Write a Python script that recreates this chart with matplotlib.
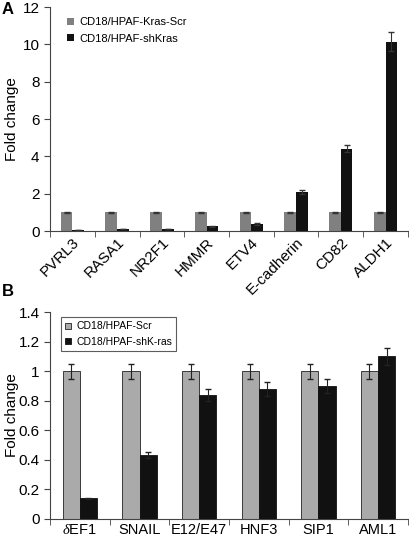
import matplotlib.pyplot as plt
import numpy as np

# panel A data
genes_a = ['PVRL3', 'RASA1', 'NR2F1', 'HMMR', 'ETV4', 'E-cadherin', 'CD82', 'ALDH1']
scr_a = [1.0, 1.0, 1.0, 1.0, 1.0, 1.0, 1.0, 1.0]
scr_a_err = [0.05, 0.05, 0.05, 0.05, 0.05, 0.05, 0.05, 0.05]
sh_a = [0.07, 0.12, 0.12, 0.25, 0.38, 2.1, 4.42, 10.15]
sh_a_err = [0.01, 0.02, 0.02, 0.03, 0.03, 0.12, 0.2, 0.5]

# panel B data
genes_b = [r'$\delta$EF1', 'SNAIL', 'E12/E47', 'HNF3', 'SIP1', 'AML1']
scr_b = [1.0, 1.0, 1.0, 1.0, 1.0, 1.0]
scr_b_err = [0.05, 0.05, 0.05, 0.05, 0.05, 0.05]
sh_b = [0.14, 0.43, 0.84, 0.88, 0.90, 1.10]
sh_b_err = [0.005, 0.02, 0.04, 0.045, 0.045, 0.055]

plt.rcParams['font.family'] = 'Liberation Sans'
plt.rcParams['mathtext.fontset'] = 'custom'
plt.rcParams['mathtext.it'] = 'Liberation Serif:italic'

fig = plt.figure(figsize=(4.1, 5.4), dpi=100)
axA = fig.add_axes([0.122, 0.572, 0.873, 0.415])
axB = fig.add_axes([0.122, 0.039, 0.873, 0.383])


def style(ax, n, ymax, step):
    ax.set_xlim(-0.5, n - 0.5)
    ax.set_ylim(0, ymax)
    ax.set_yticks(np.arange(0, ymax + step / 2, step))
    ax.spines['top'].set_visible(False)
    ax.spines['right'].set_visible(False)
    ax.spines['left'].set_color('#444444')
    ax.spines['bottom'].set_color('#444444')
    ax.set_xticks(np.arange(n))
    ax.set_xticks(np.arange(n + 1) - 0.5, minor=True)
    ax.tick_params(axis='x', which='major', length=0, pad=3)
    ax.tick_params(axis='x', which='minor', length=4, color='#444444')
    ax.tick_params(axis='y', length=4, color='#444444', labelsize=11)
    ax.set_ylabel('Fold change', fontsize=11)
    ax.yaxis.set_label_coords(-0.088, 0.5)


# ----- A -----
x = np.arange(len(genes_a))
w = 0.26
axA.bar(x - w / 2, scr_a, w, yerr=scr_a_err, color='#808080',
        error_kw=dict(ecolor='#333333', elinewidth=0.8, capsize=2),
        label='CD18/HPAF-Kras-Scr')
axA.bar(x + w / 2, sh_a, w, yerr=sh_a_err, color='#111111',
        error_kw=dict(ecolor='#333333', elinewidth=0.8, capsize=2),
        label='CD18/HPAF-shKras')
style(axA, len(genes_a), 12, 2)
axA.set_xticklabels(genes_a, rotation=45, ha='right', rotation_mode='anchor',
                    fontsize=11)
axA.legend(loc='upper left', bbox_to_anchor=(0.02, 1.0), frameon=False,
           fontsize=8, handlelength=0.6, handleheight=0.6, handletextpad=0.5,
           labelspacing=0.6)
fig.text(0.005, 0.975, 'A', fontsize=12, fontweight='bold')

# ----- B -----
x = np.arange(len(genes_b))
w = 0.29
axB.bar(x - w / 2, scr_b, w, yerr=scr_b_err, color='#aaaaaa', edgecolor='#222222',
        linewidth=0.6, error_kw=dict(ecolor='#222222', elinewidth=0.8, capsize=2.5),
        label='CD18/HPAF-Scr')
axB.bar(x + w / 2, sh_b, w, yerr=sh_b_err, color='#111111', edgecolor='#111111',
        linewidth=0.6, error_kw=dict(ecolor='#222222', elinewidth=0.8, capsize=2.5),
        label='CD18/HPAF-shK-ras')
style(axB, len(genes_b), 1.4, 0.2)
axB.set_yticklabels(['0', '0.2', '0.4', '0.6', '0.8', '1', '1.2', '1.4'])
axB.set_xticklabels(genes_b, fontsize=10.5)
leg = axB.legend(loc='upper left', bbox_to_anchor=(0.015, 1.0), frameon=True,
                 fontsize=7.5, handlelength=0.6, handleheight=0.6, handletextpad=0.5,
                 labelspacing=0.5, fancybox=False, borderpad=0.4)
leg.get_frame().set_edgecolor('#333333')
leg.get_frame().set_linewidth(0.8)
fig.text(0.005, 0.452, 'B', fontsize=12, fontweight='bold')

fig.savefig('out.png', dpi=100)
